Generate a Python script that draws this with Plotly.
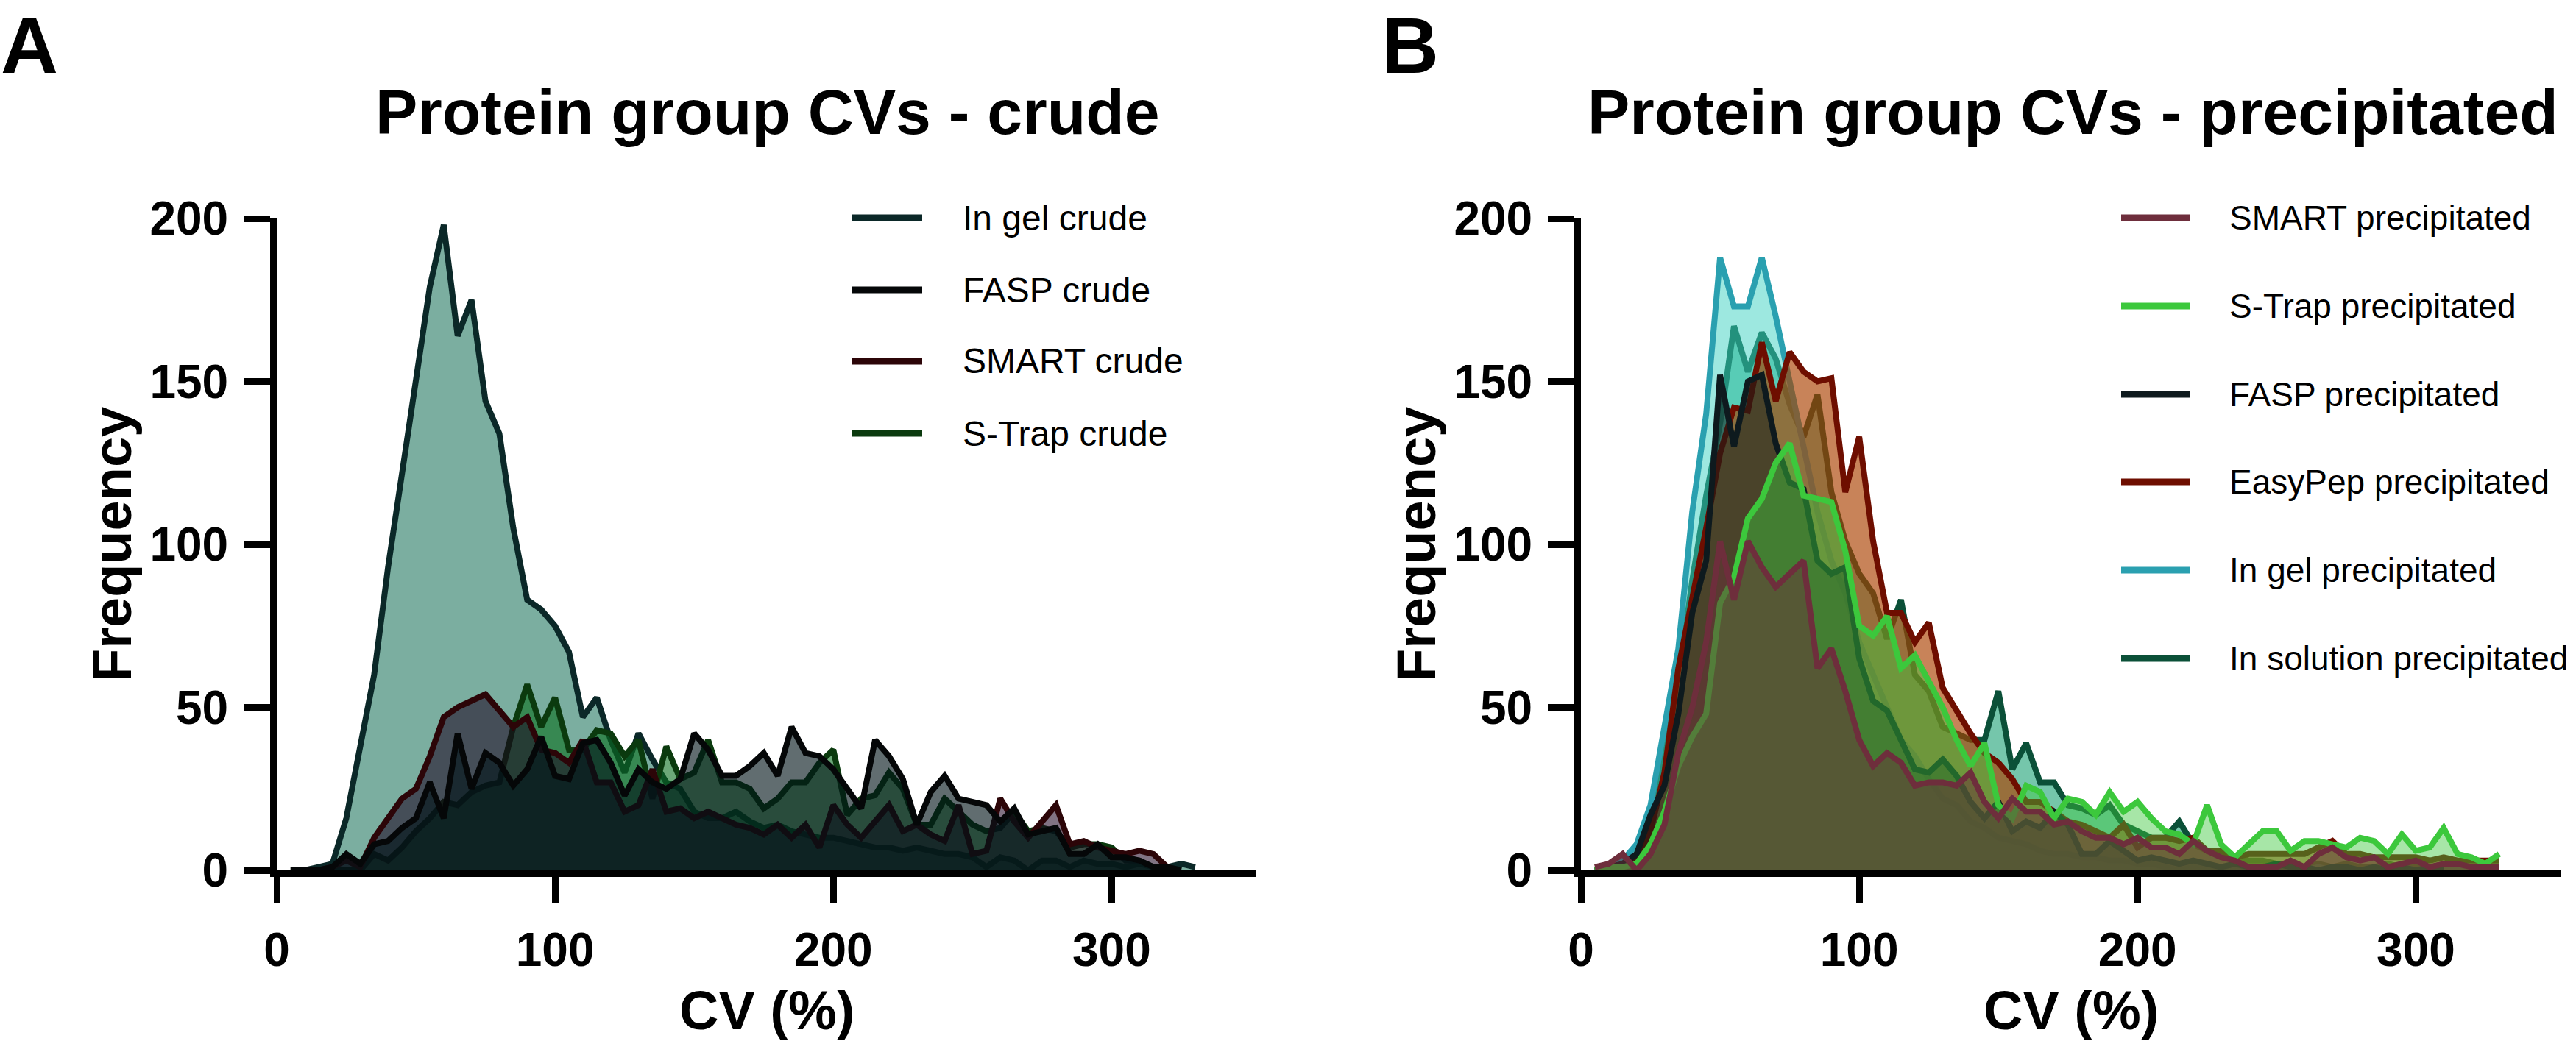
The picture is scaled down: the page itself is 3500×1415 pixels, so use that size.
import plotly.graph_objects as go

W, H = 3500, 1415

# ---------------- data ----------------
cv_bins = [5, 10, 15, 20, 25, 30, 35, 40, 45, 50, 55, 60, 65, 70, 75, 80, 85, 90, 95, 100,
           105, 110, 115, 120, 125, 130, 135, 140, 145, 150, 155, 160, 165, 170, 175, 180,
           185, 190, 195, 200, 205, 210, 215, 220, 225, 230, 235, 240, 245, 250, 255, 260,
           265, 270, 275, 280, 285, 290, 295, 300, 305, 310, 315, 320, 325, 330]

# Panel A - crude
ingel_crude = [0, 0, 1, 2, 16, 38, 60, 93, 122, 150, 179, 198, 164, 175, 144, 134, 105, 83, 80, 75,
               67, 47, 53, 40, 30, 42, 34, 27, 25, 18, 16, 16, 18, 15, 13, 14, 12, 11, 10, 10,
               9, 8, 7, 7, 6, 7, 6, 5, 5, 4, 1, 4, 3, 0, 3, 3, 1, 3, 2, 2, 1, 2, 1, 1, 2, 1]
fasp_crude = [0, 0, 0, 1, 5, 2, 8, 9, 13, 16, 27, 16, 42, 25, 36, 33, 26, 31, 41, 29,
              28, 39, 40, 33, 23, 31, 27, 25, 28, 42, 37, 29, 29, 32, 36, 29, 44, 36, 35, 31,
              25, 19, 40, 35, 28, 14, 24, 29, 22, 21, 20, 15, 19, 11, 12, 13, 5, 5, 8, 4,
              4, 3, 1, 1, 0]
smart_crude = [0, 0, 0, 1, 3, 1, 10, 16, 22, 25, 35, 47, 50, 52, 54, 49, 44, 47, 37, 36,
               33, 40, 27, 27, 18, 20, 31, 18, 19, 16, 18, 16, 14, 13, 11, 14, 10, 14, 7, 20,
               14, 10, 15, 20, 12, 14, 11, 9, 20, 5, 6, 22, 15, 10, 15, 20, 8, 9, 7, 6,
               5, 6, 5, 1]
strap_crude = [0, 0, 0, 0, 0, 0, 5, 3, 7, 12, 16, 21, 20, 24, 26, 27, 44, 57, 44, 53,
               37, 37, 43, 42, 35, 40, 22, 38, 28, 30, 40, 27, 27, 25, 19, 22, 27, 27, 33, 37,
               17, 22, 23, 30, 25, 14, 14, 22, 18, 14, 12, 13, 18, 12, 13, 12, 7, 8, 8, 7,
               3, 3, 1, 0]

# Panel B - precipitated
smart_prec = [1, 2, 5, 0, 5, 14, 36, 50, 70, 101, 83, 101, 93, 87, 91, 95, 62, 68, 55, 40,
              32, 36, 33, 26, 27, 27, 26, 30, 21, 16, 22, 18, 18, 14, 15, 12, 10, 10, 8, 10,
              7, 7, 5, 9, 6, 4, 3, 1, 1, 1, 3, 1, 5, 7, 4, 3, 4, 1, 2, 3, 1, 2, 2, 1, 1, 1]
strap_prec = [0, 1, 1, 2, 8, 18, 32, 41, 48, 82, 90, 108, 114, 125, 131, 115, 114, 113, 98, 75,
              72, 78, 62, 66, 58, 50, 40, 32, 39, 20, 16, 26, 24, 16, 22, 21, 17, 24, 18, 21,
              16, 12, 11, 8, 20, 8, 4, 8, 12, 12, 6, 9, 9, 8, 7, 10, 9, 5, 11, 6, 7, 13, 5, 4, 2, 5]
fasp_prec = [0, 1, 2, 5, 17, 26, 48, 79, 95, 152, 130, 150, 152, 131, 119, 117, 95, 91, 93, 65,
             52, 49, 40, 31, 30, 34, 29, 21, 16, 21, 12, 15, 13, 18, 14, 5, 5, 9, 6, 3,
             4, 3, 2, 3, 2, 1, 2, 1, 1, 2, 1, 1, 0, 1, 1, 0, 1, 0, 1, 0, 1, 0]
easypep_prec = [0, 0, 1, 4, 12, 30, 62, 83, 105, 128, 142, 141, 162, 144, 159, 153, 150, 151, 116, 133,
                101, 79, 79, 70, 76, 56, 49, 42, 36, 33, 28, 21, 21, 18, 15, 14, 12, 10, 14, 7,
                10, 10, 9, 10, 6, 6, 4, 5, 5, 5, 5, 5, 7, 9, 5, 5, 4, 4, 4, 4, 3, 4, 3, 3, 3, 3]
ingel_prec = [0, 1, 3, 8, 20, 45, 68, 110, 140, 188, 173, 173, 188, 170, 150, 130, 110, 95, 85, 70,
              60, 50, 40, 35, 28, 22, 20, 15, 13, 10, 9, 8, 6, 5, 5, 4, 4, 3, 3, 2,
              2, 1, 0, 1, 1, 0, 1, 1, 0, 1, 1, 0, 1, 0, 1, 0, 1, 0, 1, 0, 1, 0, 0, 1, 0]
insol_prec = [0, 0, 2, 5, 18, 35, 58, 89, 115, 137, 167, 153, 165, 157, 143, 133, 146, 116, 101, 91,
              85, 71, 83, 60, 55, 44, 42, 40, 40, 55, 31, 39, 27, 27, 20, 19, 17, 20, 14, 12,
              10, 10, 15, 8, 6, 5, 4, 3, 3, 2, 2, 1, 2, 1, 2, 1, 1, 2, 1, 1, 1, 1, 0]

x_ticks = [0, 100, 200, 300]
y_ticks = [0, 50, 100, 150, 200]

# series: (legend name, values, line colour, fill colour, drawing layer: higher = on top)
crude_series = [
    ("In gel crude", ingel_crude, "#0B2828", "rgba(60,135,115,0.68)", 0),
    ("FASP crude", fasp_crude, "#050708", "rgba(0,20,25,0.62)", 3),
    ("SMART crude", smart_crude, "#2C0508", "rgba(25,0,30,0.55)", 2),
    ("S-Trap crude", strap_crude, "#0B3A0E", "rgba(10,110,30,0.6)", 1),
]
prec_series = [
    ("SMART precipitated", smart_prec, "#6E2E3C", "rgba(105,50,55,0.5)", 5),
    ("S-Trap precipitated", strap_prec, "#3CC83C", "rgba(60,200,60,0.45)", 4),
    ("FASP precipitated", fasp_prec, "#0E1A1E", "rgba(20,30,25,0.55)", 3),
    ("EasyPep precipitated", easypep_prec, "#6E0E00", "rgba(170,65,0,0.65)", 2),
    ("In gel precipitated", ingel_prec, "#2AA0B0", "rgba(59,209,193,0.5)", 1),
    ("In solution precipitated", insol_prec, "#0B5038", "rgba(25,160,115,0.6)", 0),
]

# ---------------- layout constants (pixels) ----------------
FONT = "Liberation Sans, Arial, Helvetica, sans-serif"
AX_A = (376, 1707)
AX_B = (2148, 3479)
Y_BOT, Y_TOP = 1183, 297


def px(x):
    return x / W


def py(y):
    return 1 - y / H


fig = go.Figure()

for series, xa, ya in ((crude_series, "x", "y"), (prec_series, "x2", "y2")):
    for name, vals, lc, fc, layer in sorted(series, key=lambda s: s[4]):
        fig.add_trace(go.Scatter(x=cv_bins[:len(vals)], y=vals, mode="lines", name=name,
                                 line=dict(color=lc, width=8), fill="tozeroy", fillcolor=fc,
                                 xaxis=xa, yaxis=ya, showlegend=False))

axis_common = dict(showline=True, linewidth=9, linecolor="black", ticks="outside",
                   ticklen=36, tickwidth=9, tickcolor="black", showgrid=False, zeroline=False,
                   tickfont=dict(family=FONT, size=64, color="black", weight="bold"))

fig.update_layout(
    width=W, height=H, margin=dict(l=0, r=0, t=0, b=0, autoexpand=False),
    paper_bgcolor="white", plot_bgcolor="white", showlegend=False,
    xaxis=dict(domain=[px(AX_A[0]), px(AX_A[1])], range=[0, 352], tickvals=x_ticks,
               anchor="y", ticklabelstandoff=8, **axis_common),
    yaxis=dict(domain=[py(Y_BOT), py(Y_TOP)], range=[0, 200], tickvals=y_ticks,
               anchor="x", ticklabelstandoff=8, **axis_common),
    xaxis2=dict(domain=[px(AX_B[0]), px(AX_B[1])], range=[0, 352], tickvals=x_ticks,
                anchor="y2", ticklabelstandoff=8, **axis_common),
    yaxis2=dict(domain=[py(Y_BOT), py(Y_TOP)], range=[0, 200], tickvals=y_ticks,
                anchor="x2", ticklabelstandoff=8, **axis_common),
)

annotations = []
shapes = []


def text(x, y, s, size, bold=True, xanchor="center", yanchor="middle", angle=0):
    annotations.append(dict(x=px(x), y=py(y), xref="paper", yref="paper", text=s,
                            showarrow=False, xanchor=xanchor, yanchor=yanchor, textangle=angle,
                            borderpad=0,
                            font=dict(family=FONT, size=size, color="black",
                                      weight="bold" if bold else "normal")))


# panel letters and titles
text(0, 0, "A", 108, xanchor="left", yanchor="top")
text(1876, 0, "B", 108, xanchor="left", yanchor="top")
text(1043, 152, "Protein group CVs - crude", 86)
text(2816, 152, "Protein group CVs - precipitated", 86)

# axis titles
for (x0, x1) in (AX_A, AX_B):
    text((x0 + x1) / 2, 1373, "CV (%)", 74)
for xc in (152, 1924):
    text(xc, (Y_BOT + Y_TOP) / 2, "Frequency", 74, angle=-90)

# manual legends (long line samples like the original)
legA = dict(x0=1157, x1=1253, tx=1307, ys=[296, 394, 491, 589], size=48)
legB = dict(x0=2882, x1=2976, tx=3028, ys=[296, 416, 536, 655, 775, 895], size=46)
for leg, series in ((legA, crude_series), (legB, prec_series)):
    for (name, _, lc, _, _), y in zip(series, leg["ys"]):
        shapes.append(dict(type="line", xref="paper", yref="paper",
                           x0=px(leg["x0"]), x1=px(leg["x1"]), y0=py(y), y1=py(y),
                           line=dict(color=lc, width=9)))
        text(leg["tx"], y, name, leg["size"], bold=False, xanchor="left")

fig.update_layout(annotations=annotations, shapes=shapes)
fig.write_html("out.html")
